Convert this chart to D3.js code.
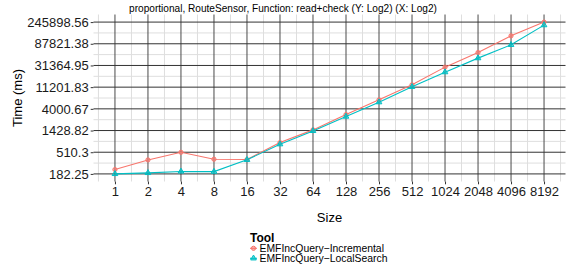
<!DOCTYPE html>
<html>
<head>
<meta charset="utf-8">
<script src="https://cdn.jsdelivr.net/npm/d3@7"></script>
<style>
  body { margin: 0; background: #fff; }
  svg { display: block; font-family: "Liberation Sans", Arial, Helvetica, sans-serif; }
</style>
</head>
<body>
<svg id="chart" width="566" height="271"></svg>
<script>
const sizes = [1, 2, 4, 8, 16, 32, 64, 128, 256, 512, 1024, 2048, 4096, 8192];
const tools = ['EMFIncQuery−Incremental', 'EMFIncQuery−LocalSearch'];
const incremental = [224, 354, 508, 366, 360, 806, 1474, 3049, 6125, 12500, 28980, 58000, 128300, 245898.56];
const localSearch = [182.25, 191, 205, 203, 356, 747, 1405, 2772, 5495, 11370, 22850, 44450, 83620, 213000];
const yTicks = [182.25, 510.3, 1428.82, 4000.67, 11201.83, 31364.95, 87821.38, 245898.56];
const colors = ['#F8766D', '#00BFC4'];

const series = [incremental, localSearch].map((vals, i) => ({
  name: tools[i],
  color: colors[i],
  points: vals.map((v, j) => ({ x: sizes[j], y: v }))
}));

const svg = d3.select('#chart');
const margin = { left: 93.5, right: 0.5, top: 14.5, bottom: 89.5 };
const W = 566, H = 271;

// log2 scales with ggplot-style 5% expansion
const lx = d3.extent(sizes).map(Math.log2);
const padX = (lx[1] - lx[0]) * 0.05;
const x = d3.scaleLog().base(2)
  .domain([2 ** (lx[0] - padX), 2 ** (lx[1] + padX)])
  .range([margin.left, W - margin.right]);

const ly = d3.extent(yTicks).map(Math.log2);
const padY = (ly[1] - ly[0]) * 0.05;
const y = d3.scaleLog().base(2)
  .domain([2 ** (ly[0] - padY), 2 ** (ly[1] + padY)])
  .range([H - margin.bottom, margin.top]);

const [x0, x1] = x.range();
const [y0, y1] = y.range();

// minor gridlines at log midpoints
const xMinor = [];
for (let k = -1; k < sizes.length; k++) {
  const v = 2 ** (k + 0.5);
  if (v > x.domain()[0] && v < x.domain()[1]) xMinor.push(v);
}
const yMinor = [];
for (let k = -1; k < yTicks.length; k++) {
  const a = Math.log2(yTicks[Math.max(k, 0)]);
  const step = Math.log2(yTicks[1]) - Math.log2(yTicks[0]);
  const v = 2 ** (k < 0 ? a - step / 2 : a + step / 2);
  if (v > y.domain()[0] && v < y.domain()[1]) yMinor.push(v);
}

const grid = svg.append('g');
grid.selectAll('.xminor').data(xMinor).join('line')
  .attr('x1', d => x(d)).attr('x2', d => x(d)).attr('y1', y0).attr('y2', y1)
  .attr('stroke', '#dedede').attr('stroke-width', 1);
grid.selectAll('.yminor').data(yMinor).join('line')
  .attr('x1', x0).attr('x2', x1).attr('y1', d => y(d)).attr('y2', d => y(d))
  .attr('stroke', '#dedede').attr('stroke-width', 1);
grid.selectAll('.xmajor').data(sizes).join('line')
  .attr('x1', d => x(d)).attr('x2', d => x(d)).attr('y1', y0).attr('y2', y1)
  .attr('stroke', '#4a4a4a').attr('stroke-width', 1);
grid.selectAll('.ymajor').data(yTicks).join('line')
  .attr('x1', x0).attr('x2', x1).attr('y1', d => y(d)).attr('y2', d => y(d))
  .attr('stroke', '#333').attr('stroke-width', 1);

// axes
const xAxis = svg.append('g')
  .attr('transform', `translate(0,${y0})`)
  .call(d3.axisBottom(x).tickValues(sizes).tickFormat(d3.format('d')).tickSize(2.8).tickPadding(2));
const yAxis = svg.append('g')
  .attr('transform', `translate(${x0},0)`)
  .call(d3.axisLeft(y).tickValues(yTicks).tickFormat(d => String(d)).tickSize(2.8).tickPadding(2));
[xAxis, yAxis].forEach(a => {
  a.select('.domain').remove();
  a.selectAll('.tick line').attr('stroke', '#333');
  a.selectAll('.tick text').attr('fill', '#1a1a1a').style('font-size', '13px');
});

// lines and points
const line = d3.line().x(d => x(d.x)).y(d => y(d.y));
const tri = d3.symbol().type(d3.symbolTriangle).size(14);
series.forEach((s, i) => {
  svg.append('path').datum(s.points)
    .attr('d', line).attr('fill', 'none')
    .attr('stroke', s.color).attr('stroke-width', 1.1);
  const g = svg.append('g');
  if (i === 0) {
    g.selectAll('circle').data(s.points).join('circle')
      .attr('cx', d => x(d.x)).attr('cy', d => y(d.y)).attr('r', 2.1)
      .attr('fill', s.color).attr('fill-opacity', 0.5)
      .attr('stroke', s.color).attr('stroke-width', 1);
  } else {
    g.selectAll('path').data(s.points).join('path')
      .attr('d', tri).attr('transform', d => `translate(${x(d.x)},${y(d.y)})`)
      .attr('fill', s.color).attr('fill-opacity', 0.6)
      .attr('stroke', s.color).attr('stroke-width', 1);
  }
});

// titles
svg.append('text').attr('x', 283).attr('y', 12)
  .attr('text-anchor', 'middle').style('font-size', '10.1px').attr('fill', '#000')
  .text('proportional, RouteSensor, Function: read+check (Y: Log2) (X: Log2)');
svg.append('text').attr('x', (x0 + x1) / 2).attr('y', 221.5)
  .attr('text-anchor', 'middle').style('font-size', '13px')
  .text('Size');
svg.append('text')
  .attr('transform', `translate(22,${(y0 + y1) / 2}) rotate(-90)`)
  .attr('text-anchor', 'middle').style('font-size', '13px')
  .text('Time (ms)');

// legend
const legend = svg.append('g').attr('transform', 'translate(250,0)');
legend.append('text').attr('x', 0).attr('y', 241.5)
  .style('font-size', '12px').style('font-weight', 'bold').text('Tool');
series.forEach((s, i) => {
  const cy = 248.3 + i * 10;
  legend.append('line').attr('x1', 0).attr('x2', 7).attr('y1', cy).attr('y2', cy)
    .attr('stroke', s.color).attr('stroke-width', 1.1);
  if (i === 0) {
    legend.append('circle').attr('cx', 3.5).attr('cy', cy).attr('r', 2.1)
      .attr('fill', s.color).attr('fill-opacity', 0.5).attr('stroke', s.color);
  } else {
    legend.append('path').attr('d', tri).attr('transform', `translate(3.5,${cy})`)
      .attr('fill', s.color).attr('fill-opacity', 0.6).attr('stroke', s.color);
  }
  legend.append('text').attr('x', 9.5).attr('y', cy + 3.8)
    .style('font-size', '10.4px').text(s.name);
});
</script>
</body>
</html>
